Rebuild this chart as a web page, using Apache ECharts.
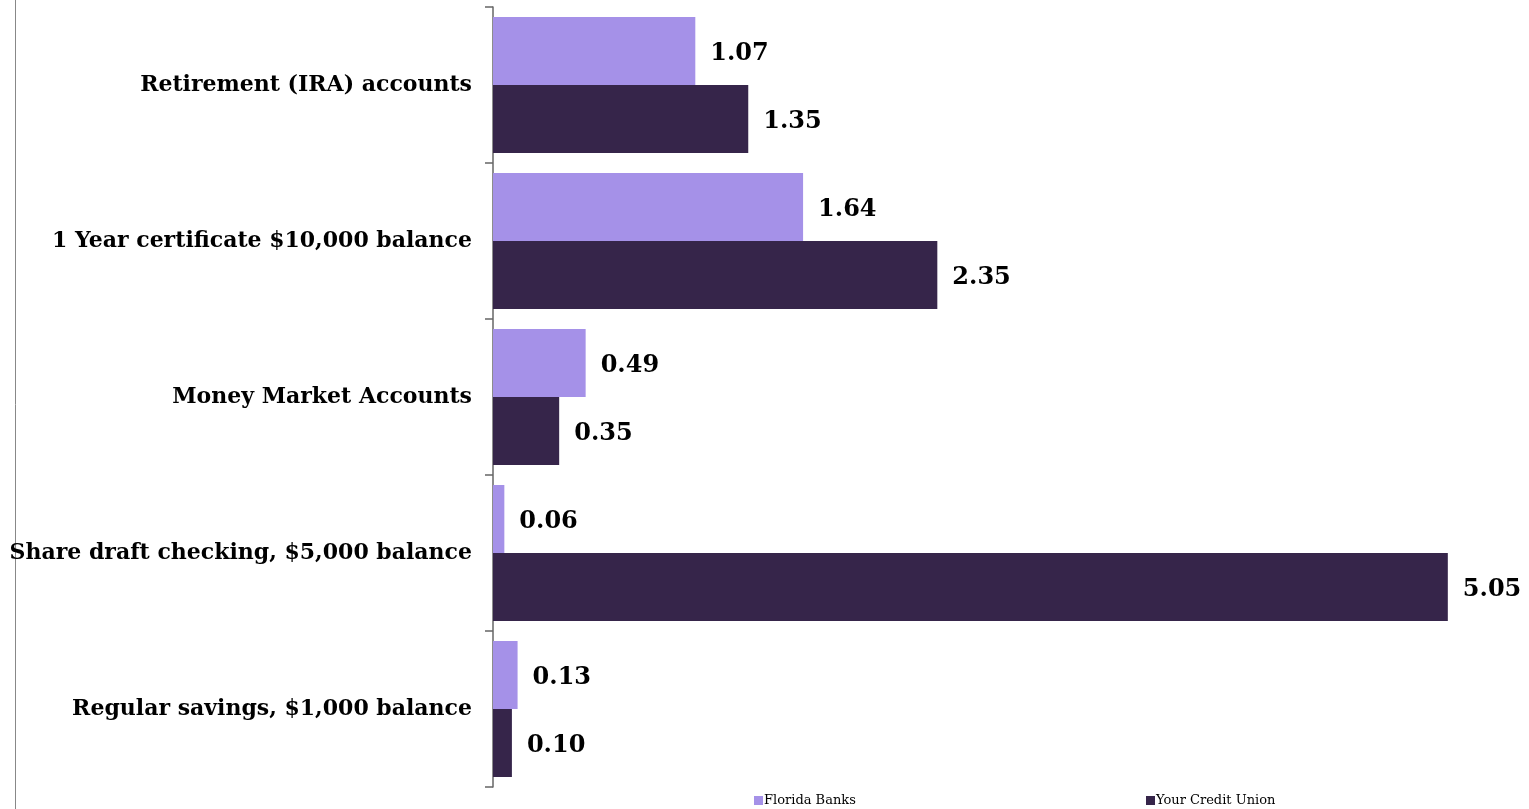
<!DOCTYPE html>
<html>
<head>
<meta charset="utf-8">
<script src="https://cdn.jsdelivr.net/npm/echarts@6/dist/echarts.min.js"></script>
<style>
  html, body { margin: 0; padding: 0; background: #fff; }
  #chart { width: 1529px; height: 809px; }
</style>
</head>
<body>
<div id="chart"></div>
<script>
// Categories listed top to bottom
const categories = [
  'Retirement (IRA) accounts',
  '1 Year certificate $10,000 balance',
  'Money Market Accounts',
  'Share draft checking, $5,000 balance',
  'Regular savings, $1,000 balance'
];
const seriesNames = ['Florida Banks', 'Your Credit Union'];
const floridaBanks = [1.07, 1.64, 0.49, 0.06, 0.13];
const creditUnion = [1.35, 2.35, 0.35, 5.05, 0.10];

const FONT = '"DejaVu Serif", Georgia, serif';
const LIGHT = '#a591e8';
const DARK = '#36254a';

const chart = echarts.init(document.getElementById('chart'), null, { renderer: 'canvas' });

const labelStyle = {
  show: true,
  position: 'right',
  distance: 15,
  offset: [0, 3],
  fontFamily: FONT,
  fontWeight: 'bold',
  fontSize: 24,
  color: '#000',
  formatter: p => p.value.toFixed(2)
};

const legendText = { fontFamily: FONT, fontSize: 13, color: '#000', padding: [0, 0, 0, -4] };

chart.setOption({
  animation: false,
  backgroundColor: '#fff',
  grid: { left: 493, top: 7, bottom: 22, width: 1021 },
  legend: [
    {
      data: [seriesNames[0]],
      left: 749, top: 789,
      itemWidth: 9, itemHeight: 9, icon: 'rect',
      textStyle: legendText
    },
    {
      data: [seriesNames[1]],
      left: 1141, top: 789,
      itemWidth: 9, itemHeight: 9, icon: 'rect',
      textStyle: legendText
    }
  ],
  xAxis: {
    type: 'value', min: 0, max: 5.4,
    show: false
  },
  yAxis: {
    type: 'category',
    inverse: true,
    data: categories,
    axisLine: { show: true, lineStyle: { color: '#666', width: 1.5 } },
    axisTick: { show: true, length: 8, lineStyle: { color: '#666', width: 1.5 } },
    axisLabel: {
      margin: 21,
      fontFamily: FONT, fontWeight: 'bold', fontSize: 22, color: '#000'
    },
    splitLine: { show: false }
  },
  series: [
    {
      name: seriesNames[0], type: 'bar', data: floridaBanks,
      itemStyle: { color: LIGHT },
      barGap: '0%', barCategoryGap: '12.8%',
      label: labelStyle
    },
    {
      name: seriesNames[1], type: 'bar', data: creditUnion,
      itemStyle: { color: DARK },
      barGap: '0%', barCategoryGap: '12.8%',
      label: labelStyle
    }
  ],
  graphic: [
    {
      type: 'line',
      shape: { x1: 15.5, y1: 0, x2: 15.5, y2: 809 },
      style: { stroke: '#888', lineWidth: 1 }
    }
  ]
});
</script>
</body>
</html>
